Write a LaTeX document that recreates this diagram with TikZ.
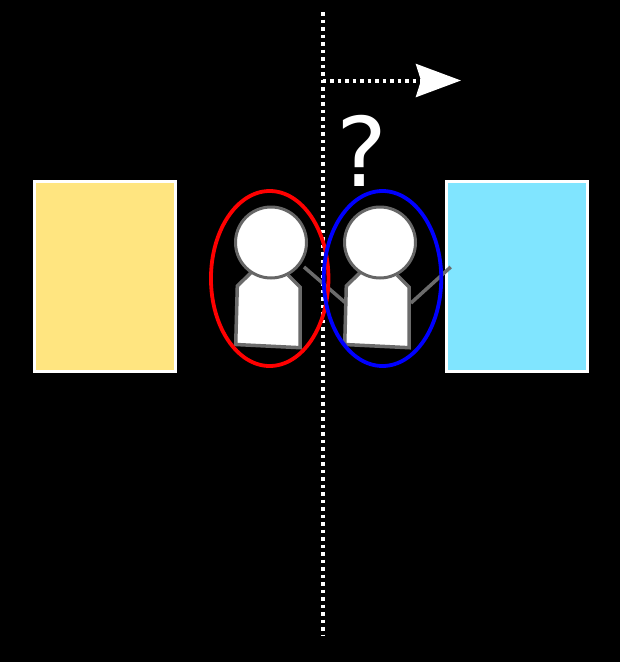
\documentclass[tikz,border=0pt]{standalone}
\usepackage{fontspec}
\setmainfont{DejaVu Sans}
\usetikzlibrary{arrows.meta}
\usetikzlibrary{shapes.geometric}

\begin{document}
\begin{tikzpicture}[x=1pt, y=-1pt]
\tikzset{board/.style = {rectangle, draw=white, line width=3pt, minimum width=141.5pt, minimum height=190pt, inner sep=0, outer sep=0}}
\tikzset{head/.style = {circle, draw=black!60, line width=3pt, fill=white, minimum size=71pt, inner sep=0, outer sep=0}}
\tikzset{body/.style = {draw=black!58, line width=3.5pt, fill=white, miter limit=4}}
\tikzset{arm/.style = {draw=black!58, line width=3.5pt}}
\tikzset{halo/.style = {ellipse, line width=3.8pt, minimum width=117.5pt, minimum height=175pt, inner sep=0, outer sep=0}}
\tikzset{edge/.style = {white, line width=4pt, dash pattern=on 3.7pt off 3.8pt}}

\fill[black] (0,0) rectangle (620,662);
\useasboundingbox (0,0) rectangle (620,662);

\node[board, fill={rgb,255:red,255;green,229;blue,128}] (yellowboard) at (105, 276.6) {};
\node[board, fill={rgb,255:red,128;green,229;blue,255}] (blueboard) at (517, 276.6) {};

\coordinate (linetop) at (322.7, 12);
\coordinate (linebottom) at (322.7, 635);
\coordinate (arrowstart) at (322.7, 80.5);
\coordinate (arrowtip) at (461, 80.5);
\draw[edge] (linetop) -- (linebottom);
\draw[edge, -{Stealth[length=45pt, width=33pt, inset=5pt]}] (arrowstart) -- (arrowtip);

\node[text=white, font=\fontsize{96}{96}\selectfont, inner sep=0] (question) at (362, 150.5) {?};

% left one
\draw[body] (250.7,273) -- (237.3,286) -- (235.7,344.5) -- (300,347.7) -- (300,287) -- (288,275);
\node[head] (headleft) at (271, 242.5) {};

% right one
\coordinate (armleftout) at (304, 267);
\coordinate (armleftin) at (345.7, 303);
\coordinate (armrightin) at (411, 303);
\coordinate (armrightout) at (450.7, 267);
\draw[arm] (armleftout) -- (armleftin);
\draw[arm] (armrightin) -- (armrightout);
\draw[body] (359.7,273) -- (346.3,286) -- (344.7,344.5) -- (409,347.7) -- (409,287) -- (397,275);
\node[head] (headright) at (380, 242.5) {};

\node[halo, draw=red] (haloleft) at (269.7, 278.5) {};
\node[halo, draw=blue] (haloright) at (382.5, 278.5) {};

\end{tikzpicture}
\end{document}
